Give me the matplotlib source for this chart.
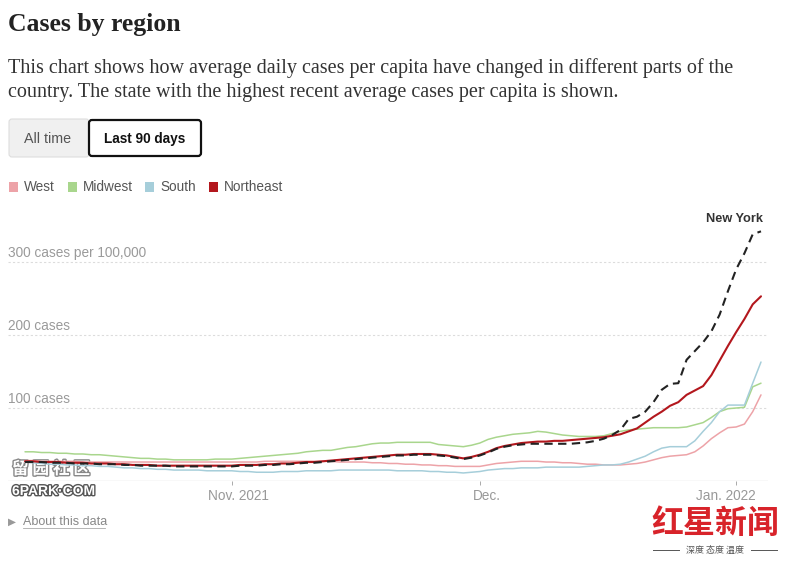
import datetime as dt
import numpy as np
import matplotlib
matplotlib.use("Agg")
import matplotlib.pyplot as plt
import matplotlib.dates as mdates
import matplotlib.patheffects as pe
from matplotlib.patches import FancyBboxPatch, Rectangle

# daily average cases per 100,000, Oct 7 2021 .. Jan 4 2022
start = dt.date(2021, 10, 7)
days = [start + dt.timedelta(days=i) for i in range(90)]

west = [28, 28, 27, 27, 27, 27, 27, 26, 26, 26, 26, 26,
        26, 26, 26, 26, 26, 26, 26, 26, 26, 26, 26, 26, 26, 26,
        26, 26, 26, 27, 27, 27, 27, 27, 27, 27, 27,
        27, 26, 26, 26, 26, 25, 25, 24, 24, 23, 23, 22,
        22, 21, 21, 20, 20, 20, 20, 22, 24, 25, 26, 27, 27,
        27, 26, 26, 25, 25, 24, 23, 23, 22, 22, 22,
        23, 24, 26, 29, 32, 34, 35, 36, 40,
        48, 58, 66, 73, 74, 78, 95, 118]
midwest = [40, 40, 39, 39, 38, 38, 37, 37, 36, 36, 35, 34,
           33, 32, 31, 31, 30, 30, 29, 29, 29, 29, 29, 30, 30, 30,
           31, 32, 33, 34, 35, 36, 37, 38, 40, 41, 42,
           42, 44, 46, 47, 49, 51, 52, 52, 53, 53, 53, 53,
           53, 50, 49, 48, 47, 49, 52, 57, 60, 62, 64, 65, 66,
           68, 67, 65, 63, 62, 61, 61, 61, 62, 65, 68,
           70, 71, 72, 73, 73, 73, 73, 74, 77,
           80, 87, 95, 99, 100, 101, 129, 134]
south = [26, 25, 24, 23, 23, 22, 22, 21, 21, 20, 20, 19,
         18, 18, 17, 17, 16, 16, 15, 15, 15, 15, 14, 14, 14, 14,
         13, 13, 12, 12, 12, 13, 13, 13, 14, 14, 14,
         14, 15, 15, 15, 15, 15, 15, 15, 14, 14, 14, 14,
         13, 13, 12, 12, 11, 12, 13, 15, 16, 17, 17, 18, 18,
         18, 19, 19, 19, 19, 19, 20, 21, 22, 22, 23,
         26, 30, 34, 40, 45, 47, 47, 47, 55,
         68, 80, 95, 104, 104, 104, 134, 163]
northeast = [27, 27, 26, 26, 26, 25, 25, 25, 24, 24, 24, 23,
             23, 22, 22, 22, 21, 21, 21, 21, 21, 21, 21, 21, 21, 21,
             22, 22, 22, 23, 23, 24, 24, 25, 26, 26, 27,
             28, 29, 30, 31, 32, 33, 34, 35, 36, 36, 37, 37,
             37, 36, 35, 33, 31, 33, 36, 40, 45, 48, 50, 52, 53,
             54, 54, 55, 55, 56, 57, 58, 59, 60, 62, 64,
             68, 72, 80, 88, 95, 103, 108, 118, 124,
             130, 145, 165, 185, 204, 222, 242, 253]
new_york = [26, 26, 26, 25, 25, 25, 24, 24, 24, 23, 23, 23,
            22, 22, 21, 21, 21, 21, 20, 20, 20, 20, 20, 20, 20, 20,
            21, 21, 21, 22, 22, 23, 23, 24, 25, 25, 26,
            27, 28, 29, 30, 31, 32, 33, 34, 35, 35, 36, 36,
            36, 35, 34, 32, 30, 32, 35, 39, 44, 47, 49, 50, 51,
            51, 51, 51, 51, 51, 52, 53, 55, 58, 63, 70,
            85, 88, 95, 108, 125, 133, 134, 166, 178,
            190, 205, 228, 260, 290, 312, 338, 342]

series = [("West", west, "#eda3a8", 1.1),
          ("Midwest", midwest, "#a9d68d", 1.1),
          ("South", south, "#a6ceda", 1.1),
          ("Northeast", northeast, "#b3171d", 1.5)]

grid_values = [100, 200, 300]
grid_labels = ["100 cases", "200 cases", "300 cases per 100,000"]
tick_dates = [dt.date(2021, 11, 1), dt.date(2021, 12, 1), dt.date(2022, 1, 1)]
tick_labels = ["Nov. 2021", "Dec.", "Jan. 2022"]
label_shift = [0.85, 0.85, -1.3]  # days; the last label is pulled in from the edge

W, H = 787, 566
fig = plt.figure(figsize=(W / 100, H / 100), dpi=100)

# overlay axes in pixel units for the page furniture
page = fig.add_axes([0, 0, 1, 1])
page.set_xlim(0, W)
page.set_ylim(H, 0)
page.axis("off")

serif = ["Liberation Serif", "DejaVu Serif"]
sans = ["Liberation Sans", "DejaVu Sans"]

page.text(8, 24, "Cases by region", family=serif, fontsize=18.5,
          fontweight="bold", color="#222222", va="center", ha="left")
page.text(8, 68, "This chart shows how average daily cases per capita have "
          "changed in different parts of the", family=serif, fontsize=14.5,
          color="#333333", va="center", ha="left")
page.text(8, 93, "country. The state with the highest recent average cases "
          "per capita is shown.", family=serif, fontsize=14.5,
          color="#333333", va="center", ha="left")

# toggle buttons
page.add_patch(FancyBboxPatch((9, 119), 80, 38, boxstyle="round,pad=0,rounding_size=3",
                              facecolor="#f0f0f0", edgecolor="#dddddd", lw=0.8))
page.add_patch(FancyBboxPatch((89, 120), 112, 36, boxstyle="round,pad=0,rounding_size=3",
                              facecolor="white", edgecolor="#111111", lw=1.6))
page.text(48, 139, "All time", family=sans, fontsize=10.3, color="#555555",
          ha="center", va="center")
page.text(145, 139, "Last 90 days", family=sans, fontsize=9.8, color="#111111",
          fontweight="bold", ha="center", va="center")

# legend
legend_x = [9, 68, 145, 209]
for (name, _, color, _), lx in zip(series, legend_x):
    page.add_patch(Rectangle((lx, 182), 9, 10, facecolor=color, edgecolor="none"))
    page.text(lx + 15, 187, name, family=sans, fontsize=9.8, color="#555555",
              ha="left", va="center")

# data axes
x0, x1, ybot, ytop = 8, 768, 481, 200
ax = fig.add_axes([x0 / W, 1 - ybot / H, (x1 - x0) / W, (ybot - ytop) / H])
ax.set_facecolor("none")
for sp in ax.spines.values():
    sp.set_visible(False)

px_per_day = 8.26
left_date = mdates.date2num(start) - 17 / px_per_day
right_date = mdates.date2num(days[-1]) + 7 / px_per_day
ax.set_xlim(left_date, right_date)
ymax = (ybot - ytop) / 0.73
ax.set_ylim(0, ymax)

for v, lab in zip(grid_values, grid_labels):
    ax.axhline(v, color="#dcdcdc", lw=0.8, ls=(0, (2, 2)), zorder=0)
    ax.text(left_date, v + 12, lab, family=sans, fontsize=9.8, color="#9a9a9a",
            ha="left", va="center")
ax.axhline(0, color="#cccccc", lw=0.9, zorder=1)

for name, vals, color, lw in series:
    ax.plot(days, vals, color=color, lw=lw, solid_capstyle="round", zorder=2)
ax.plot(days, new_york, color="#222222", lw=1.5, ls=(0, (4, 2.6)), zorder=3)
ax.text(mdates.date2num(days[-1]) + 0.2, new_york[-1] + 17, "New York",
        family=sans, fontsize=9.2, fontweight="bold", color="#333333",
        ha="right", va="center")

ax.set_xticks(tick_dates)
ax.tick_params(axis="x", length=3, width=0.7, color="#aaaaaa", labelbottom=False)
ax.set_yticks([])
for d, lab, sh in zip(tick_dates, tick_labels, label_shift):
    ax.text(mdates.date2num(d) + sh, -15 / (ybot - ytop), lab, family=sans,
            fontsize=9.8, color="#999999", ha="center", va="center",
            transform=ax.get_xaxis_transform())

# footer link
page.text(8, 522, "\u25b6", family=["DejaVu Sans"], fontsize=7.5, color="#999999",
          ha="left", va="center")
page.text(23, 522, "About this data", family=sans, fontsize=9, color="#888888",
          ha="left", va="center")
page.plot([23, 105], [528, 528], color="#aaaaaa", lw=0.6)

# watermarks present in the screenshot
cjk = ["Noto Sans CJK SC", "DejaVu Sans"]
page.text(12, 469, "留 园 社 区", family=cjk, fontsize=12, fontweight="bold",
          color="white", ha="left", va="center",
          path_effects=[pe.withStroke(linewidth=2, foreground="#888888")])
page.text(12, 491, "6PARK·COM", family=sans, fontsize=10, fontweight="bold",
          color="white", ha="left", va="center",
          path_effects=[pe.withStroke(linewidth=2, foreground="#555555")])
page.text(715, 524, "红星新闻", family=cjk, fontsize=23, fontweight="bold",
          color="#d8232a", ha="center", va="center")
page.text(715, 550, "深度 态度 温度", family=cjk, fontsize=6.5, color="#555555",
          ha="center", va="center")
page.plot([653, 679], [550, 550], color="#555555", lw=0.7)
page.plot([751, 777], [550, 550], color="#555555", lw=0.7)

fig.savefig("out.png", dpi=100, facecolor="white")
